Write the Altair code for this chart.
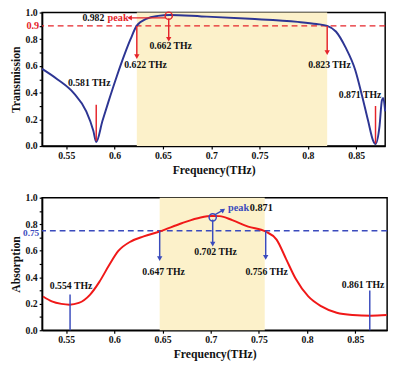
import altair as alt
import pandas as pd

# ---------------- data ----------------
# Top panel: transmission spectrum
t_freq = [0.525, 0.541, 0.5575, 0.5707, 0.578, 0.581, 0.5874, 0.5936, 0.6023, 0.6105,
          0.6165, 0.6228, 0.6334, 0.645, 0.657, 0.690, 0.740, 0.7895, 0.809, 0.820,
          0.829, 0.839, 0.849, 0.856, 0.8624, 0.8674, 0.870, 0.874, 0.8767, 0.878, 0.880]
t_val = [0.578, 0.499, 0.398, 0.259, 0.115, 0.03, 0.187, 0.331, 0.523, 0.69,
         0.80, 0.90, 0.955, 0.975, 0.982, 0.971, 0.953, 0.93, 0.914, 0.90,
         0.858, 0.739, 0.57, 0.379, 0.187, 0.043, 0.015, 0.139, 0.345, 0.36, 0.26]

# Bottom panel: absorption spectrum
a_freq = [0.526, 0.5351, 0.545, 0.5533, 0.5631, 0.5746, 0.5844, 0.5943, 0.6041, 0.6173,
          0.6304, 0.6469, 0.6698, 0.6895, 0.7011, 0.7092, 0.7223, 0.7388, 0.7568, 0.7683,
          0.7782, 0.788, 0.8012, 0.8144, 0.8307, 0.8472, 0.8659, 0.8826]
a_val = [0.255, 0.218, 0.199, 0.193, 0.206, 0.267, 0.365, 0.488, 0.598, 0.671,
         0.708, 0.745, 0.807, 0.851, 0.862, 0.861, 0.831, 0.782, 0.745, 0.684,
         0.537, 0.39, 0.255, 0.182, 0.132, 0.115, 0.11, 0.115]

x_ticks = [0.55, 0.6, 0.65, 0.7, 0.75, 0.8, 0.85]
y_ticks = [0.0, 0.1, 0.2, 0.3, 0.4, 0.5, 0.6, 0.7, 0.8, 0.9, 1.0]

# top annotations
t_band = [0.623, 0.820]
t_threshold = 0.9
t_vlines_x = [0.581, 0.870]
t_vlines_y1 = [0.04, 0.02]
t_vlines_y2 = [0.31, 0.30]
t_arrows_x = [0.623, 0.656, 0.820]
t_arrows_y1 = [0.90, 0.955, 0.90]
t_arrows_y2 = [0.67, 0.80, 0.70]
t_peak = (0.656, 0.976)
t_left_arrow = (0.653, 0.6155, 0.96)
t_text_x = [0.5737, 0.632, 0.658, 0.8223, 0.854, 0.578]
t_text_y = [0.475, 0.604, 0.748, 0.604, 0.379, 0.955]
t_text = ["0.581 THz", "0.622 THz", "0.662 THz", "0.823 THz", "0.871 THz", "0.982"]

# bottom annotations
a_band = [0.647, 0.756]
a_threshold = 0.75
a_vlines_x = [0.554, 0.865]
a_vlines_y1 = [0.0, 0.0]
a_vlines_y2 = [0.27, 0.30]
a_arrows_x = [0.647, 0.702, 0.757]
a_arrows_y1 = [0.75, 0.835, 0.75]
a_arrows_y2 = [0.54, 0.65, 0.55]
a_peak = (0.702, 0.852)
a_text_x = [0.555, 0.651, 0.705, 0.758, 0.858]
a_text_y = [0.33, 0.44, 0.59, 0.44, 0.34]
a_text = ["0.554 THz", "0.647 THz", "0.702 THz", "0.756 THz", "0.861 THz"]

FONT = "Liberation Serif"
CURVE_BLUE = "#2d3593"
RED = "#e5242a"
CURVE_RED = "#f01818"
ANN_BLUE = "#3a4bbd"
SHADE = "#fcf1ca"

LABEL_EXPR = "(round(datum.value * 10) % 2 == 0) ? format(datum.value, '.1f') : ''"


def make_panel(freq, vals, band, thr, thr_color, thr_label, thr_size, thr_dy, vl_x, vl_y1, vl_y2,
               ar_x, ar_y1, ar_y2, ann_color, curve_color, peak, tx, ty, tt,
               ytitle, dom, W, H):
    xscale = alt.Scale(domain=dom, nice=False, zero=False)
    yscale = alt.Scale(domain=[0, 1], nice=False)
    xaxis = alt.Axis(values=x_ticks, format="~g", title="Frequency(THz)")
    yaxis = alt.Axis(values=y_ticks, labelExpr=LABEL_EXPR, title=ytitle)

    def X(f):
        return alt.X(f, type="quantitative", scale=xscale, axis=xaxis)

    def Y(f):
        return alt.Y(f, type="quantitative", scale=yscale, axis=yaxis)

    curve = pd.DataFrame({"f": freq, "v": vals})
    shade = alt.Chart(pd.DataFrame({"a": [band[0]], "b": [band[1]]})).mark_rect(
        color=SHADE).encode(x=X("a"), x2="b", y=alt.value(0), y2=alt.value(H))
    thr_rule = alt.Chart(pd.DataFrame({"y": [thr]})).mark_rule(
        color=thr_color, strokeDash=[6, 4], strokeWidth=1.5).encode(y=Y("y"))
    thr_text = alt.Chart(pd.DataFrame({"y": [thr], "t": [thr_label]})).mark_text(
        color=thr_color, font=FONT, fontWeight="bold", fontSize=thr_size, align="right",
        baseline="middle", dy=thr_dy).encode(y=Y("y"), x=alt.value(-3), text="t")
    line = alt.Chart(curve).mark_line(color=curve_color, strokeWidth=2,
                                      interpolate="monotone").encode(x=X("f"), y=Y("v"))
    vl = alt.Chart(pd.DataFrame({"x": vl_x, "y1": vl_y1, "y2": vl_y2})).mark_rule(
        color=ann_color, strokeWidth=1.5).encode(x=X("x"), y=Y("y1"), y2="y2")
    ar = alt.Chart(pd.DataFrame({"x": ar_x, "y1": ar_y1, "y2": ar_y2})).mark_rule(
        color=ann_color, strokeWidth=1.5).encode(x=X("x"), y=Y("y1"), y2="y2")
    heads = alt.Chart(pd.DataFrame({"x": ar_x, "y": ar_y2})).mark_point(
        shape="triangle-down", filled=True, color=ann_color, size=30, opacity=1).encode(
        x=X("x"), y=Y("y"))
    circ = alt.Chart(pd.DataFrame({"x": [peak[0]], "y": [peak[1]]})).mark_point(
        shape="circle", filled=False, color=ann_color, size=55, strokeWidth=1.5,
        opacity=1).encode(x=X("x"), y=Y("y"))
    txt = alt.Chart(pd.DataFrame({"x": tx, "y": ty, "t": tt})).mark_text(
        font=FONT, fontWeight="bold", fontSize=10, color="#111111",
        baseline="middle").encode(x=X("x"), y=Y("y"), text="t")
    layers = [shade, thr_rule, line, vl, ar, heads, circ, txt, thr_text]
    return layers, X, Y


TOP_W, TOP_H = 352, 137
BOT_W, BOT_H = 354, 136

top_layers, TX, TY = make_panel(
    t_freq, t_val, t_band, t_threshold, RED, "0.9", 10.5, 0, t_vlines_x, t_vlines_y1, t_vlines_y2,
    t_arrows_x, t_arrows_y1, t_arrows_y2, RED, CURVE_BLUE, t_peak,
    t_text_x, t_text_y, t_text, "Transmission", [0.525, 0.88], TOP_W, TOP_H)

left_arrow = alt.Chart(pd.DataFrame({"a": [t_left_arrow[0]], "b": [t_left_arrow[1]],
                                     "y": [t_left_arrow[2]]})).mark_rule(
    color=RED, strokeWidth=1.5).encode(x=TX("a"), x2="b", y=TY("y"))
left_head = alt.Chart(pd.DataFrame({"x": [t_left_arrow[1]], "y": [t_left_arrow[2]]})).mark_point(
    shape="triangle-left", filled=True, color=RED, size=30, opacity=1).encode(x=TX("x"), y=TY("y"))
peak_word = alt.Chart(pd.DataFrame({"x": [0.6036], "y": [0.955], "t": ["peak"]})).mark_text(
    font=FONT, fontWeight="bold", fontSize=10.5, color=RED, baseline="middle").encode(
    x=TX("x"), y=TY("y"), text="t")
top = alt.layer(*top_layers, left_arrow, left_head, peak_word).properties(width=TOP_W, height=TOP_H)

bot_layers, BX, BY = make_panel(
    a_freq, a_val, a_band, a_threshold, ANN_BLUE, "0.75", 9.5, 2.5, a_vlines_x, a_vlines_y1, a_vlines_y2,
    a_arrows_x, a_arrows_y1, a_arrows_y2, ANN_BLUE, CURVE_RED, a_peak,
    a_text_x, a_text_y, a_text, "Absorption", [0.525, 0.883], BOT_W, BOT_H)

ur_arrow = alt.Chart(pd.DataFrame({"a": [0.7045], "b": [0.7122], "y1": [0.872], "y2": [0.904]})).mark_rule(
    color=ANN_BLUE, strokeWidth=1.5).encode(x=BX("a"), x2="b", y=BY("y1"), y2="y2")
ur_head = alt.Chart(pd.DataFrame({"x": [0.7122], "y": [0.904]})).mark_point(
    shape="triangle", filled=True, color=ANN_BLUE, size=30, angle=55, opacity=1).encode(
    x=BX("x"), y=BY("y"))
peak_b = alt.Chart(pd.DataFrame({"x": [0.718, 0.7405], "y": [0.92, 0.92], "t": ["peak", "0.871"],
                                 "c": [ANN_BLUE, "#111111"]})).mark_text(
    font=FONT, fontWeight="bold", fontSize=10.5, align="left", baseline="middle").encode(
    x=BX("x"), y=BY("y"), text="t", color=alt.Color("c:N", scale=None))
bottom = alt.layer(*bot_layers, ur_arrow, ur_head, peak_b).properties(width=BOT_W, height=BOT_H)

chart = alt.vconcat(top, bottom, spacing=16).properties(
    padding={"left": 0, "top": -6, "right": 0, "bottom": 0}
).configure_view(stroke="black", strokeWidth=1.5).configure_axis(
    grid=False, domainColor="black", domainWidth=1.5, tickColor="black", tickWidth=1.2,
    tickSize=3, labelFont=FONT, labelFontWeight="bold", labelFontSize=10, labelColor="#111111",
    labelPadding=2, titleFont=FONT, titleFontWeight="bold", titleFontSize=12,
    titleColor="#111111", titlePadding=3
).configure_axisX(titlePadding=4)

chart.save("out.html", embed_options={"renderer": "svg", "actions": False})
